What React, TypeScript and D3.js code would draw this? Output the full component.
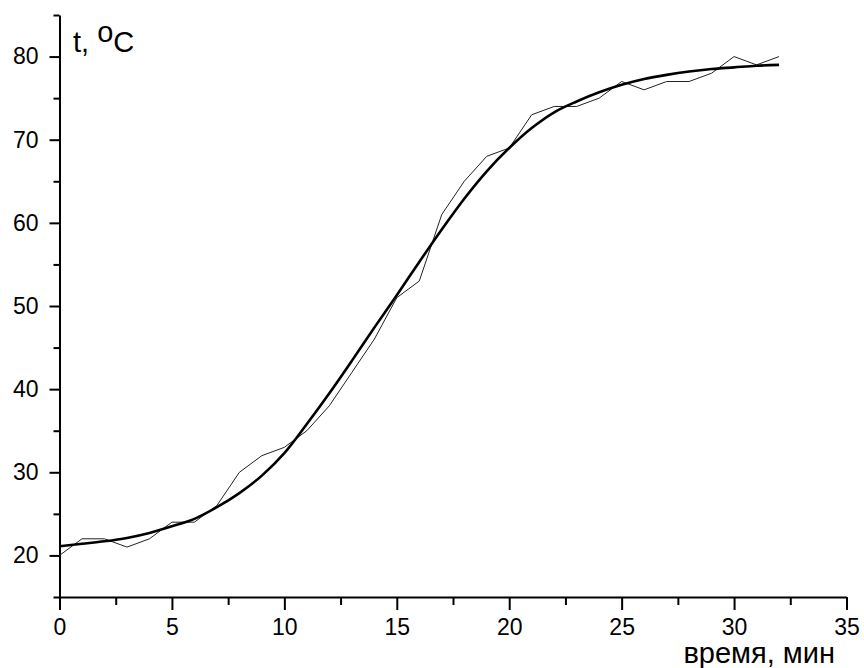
import React, { useEffect, useRef } from 'react';
import * as d3 from 'd3';

// time, min
const minutes = [0, 1, 2, 3, 4, 5, 6, 7, 8, 9, 10, 11, 12, 13, 14, 15, 16, 17, 18, 19, 20, 21, 22, 23, 24, 25, 26, 27, 28, 29, 30, 31, 32];
// measured temperature, thin line
const measured = [20, 22, 22, 21, 22, 24, 24, 26, 30, 32, 33, 35, 38, 42, 46, 51, 53, 61, 65, 68, 69, 73, 74, 74, 75, 77, 76, 77, 77, 78, 80, 79, 80];
// fitted curve, thick line
const fitted = [21.1, 21.4, 21.7, 22.1, 22.7, 23.5, 24.4, 25.8, 27.5, 29.6, 32.3, 35.8, 39.5, 43.4, 47.4, 51.3, 55.3, 59.2, 62.9, 66.2, 69.0, 71.4, 73.3, 74.6, 75.7, 76.6, 77.3, 77.8, 78.2, 78.5, 78.7, 78.9, 79.0];

const xMajor = [0, 5, 10, 15, 20, 25, 30, 35];
const xMinor = [2.5, 7.5, 12.5, 17.5, 22.5, 27.5, 32.5];
const yMajor = [20, 30, 40, 50, 60, 70, 80];
const yMinor = [15, 25, 35, 45, 55, 65, 75, 85];

const W = 864;
const H = 668;
const FONT = '"Liberation Sans", Arial, sans-serif';

const Chart = () => {
  const svgRef = useRef<SVGSVGElement | null>(null);

  useEffect(() => {
    const svg = d3.select(svgRef.current);
    svg.selectAll('*').remove();

    const x = d3.scaleLinear().domain([0, 35]).range([59.5, 846.5]);
    const y = d3.scaleLinear().domain([15, 85]).range([597, 15]);

    // minor ticks first, then the axes with major ticks and labels
    const xAxisG = svg.append('g').attr('transform', `translate(0,${y(15)})`);
    xAxisG.append('g')
      .call(d3.axisBottom(x).tickValues(xMinor).tickSize(8).tickFormat(() => ''))
      .call(g => g.select('.domain').remove());
    xAxisG.append('g')
      .call(d3.axisBottom(x).tickValues(xMajor).tickSize(13).tickSizeOuter(0).tickPadding(9).tickFormat(d => String(d)))
      .call(g => g.select('.domain').attr('stroke-width', 2))
      .call(g => g.selectAll('.tick text')
        .attr('font-family', FONT)
        .attr('font-size', 23)
        .attr('fill', '#000'));
    xAxisG.selectAll('.tick line').attr('stroke-width', 2);

    const yAxisG = svg.append('g').attr('transform', `translate(${x(0)},0)`);
    yAxisG.append('g')
      .call(d3.axisLeft(y).tickValues(yMinor).tickSize(6).tickFormat(() => ''))
      .call(g => g.select('.domain').remove());
    yAxisG.append('g')
      .call(d3.axisLeft(y).tickValues(yMajor).tickSize(10).tickSizeOuter(0).tickPadding(11).tickFormat(d => String(d)))
      .call(g => g.select('.domain').attr('stroke-width', 2))
      .call(g => g.selectAll('.tick text')
        .attr('font-family', FONT)
        .attr('font-size', 23)
        .attr('fill', '#000'));
    yAxisG.selectAll('.tick line').attr('stroke-width', 2);

    // measured data
    const raw = d3.line<number>()
      .x((_, i) => x(minutes[i]))
      .y(d => y(d));
    svg.append('path')
      .datum(measured)
      .attr('d', raw)
      .attr('fill', 'none')
      .attr('stroke', '#222')
      .attr('stroke-width', 1);

    // fitted curve
    const fit = d3.line<number>()
      .x((_, i) => x(minutes[i]))
      .y(d => y(d))
      .curve(d3.curveMonotoneX);
    svg.append('path')
      .datum(fitted)
      .attr('d', fit)
      .attr('fill', 'none')
      .attr('stroke', '#000')
      .attr('stroke-width', 2.6);

    // axis titles
    const yTitle = svg.append('text')
      .attr('x', 73)
      .attr('y', 52)
      .attr('font-family', FONT)
      .attr('font-size', 29)
      .attr('fill', '#000');
    yTitle.append('tspan').text('t, ');
    yTitle.append('tspan').attr('dy', -10).text('o');
    yTitle.append('tspan').attr('dy', 10).text('C');

    svg.append('text')
      .attr('x', 835)
      .attr('y', 663)
      .attr('text-anchor', 'end')
      .attr('font-family', FONT)
      .attr('font-size', 29)
      .attr('fill', '#000')
      .text('время, мин');
  }, []);

  return (
    <svg
      ref={svgRef}
      width={W}
      height={H}
      viewBox={`0 0 ${W} ${H}`}
      style={{ position: 'absolute', left: 0, top: 0, background: '#fff' }}
    />
  );
};

export default function App() {
  return <Chart />;
}
